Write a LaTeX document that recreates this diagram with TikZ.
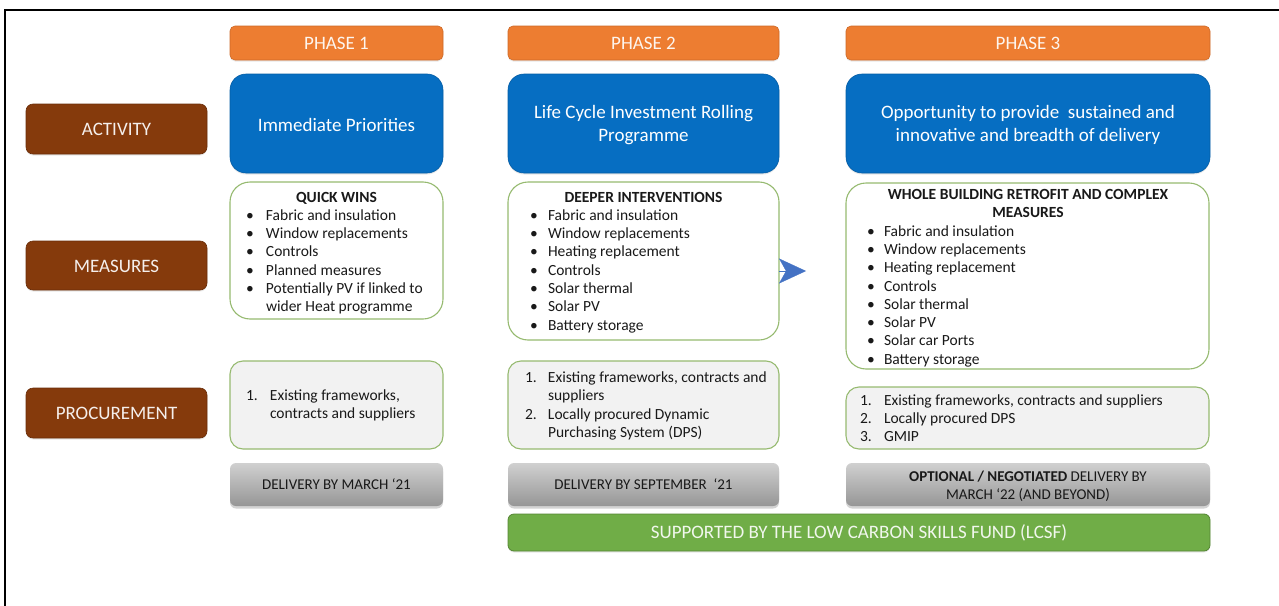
\documentclass[tikz,border=0pt]{standalone}
\usepackage{fontspec}
\setmainfont{Carlito}
\usetikzlibrary{fit,arrows.meta,shadows}

\definecolor{phaseorange}{RGB}{237,125,49}
\definecolor{phaseedge}{RGB}{205,105,40}
\definecolor{actblue}{RGB}{6,110,194}
\definecolor{rowbrown}{RGB}{133,58,12}
\definecolor{boxgreen}{RGB}{150,186,112}
\definecolor{procfill}{RGB}{242,242,242}
\definecolor{delivtop}{RGB}{208,208,208}
\definecolor{delivbot}{RGB}{150,150,150}
\definecolor{fundgreen}{RGB}{112,173,71}
\definecolor{fundedge}{RGB}{84,132,52}
\definecolor{arrowblue}{RGB}{68,114,196}
\definecolor{inkdark}{RGB}{25,25,25}

% bullet / number column of a given width
\newcommand\bulletcol[1]{\makebox[#1][l]{\textbullet}}
\newcommand\numcol[2]{\makebox[#1][l]{#2}}

\tikzset{
  area/.style={inner sep=0pt, outer sep=0pt},
  softshadow/.style={drop shadow={shadow xshift=0pt, shadow yshift=-1.5pt, opacity=0.18}},
  phasebox/.style={area, softshadow, fill=phaseorange, draw=phaseedge, line width=0.6pt, rounded corners=5pt},
  activitybox/.style={area, softshadow, fill=actblue, draw=actblue!85!black, line width=0.6pt, rounded corners=16pt},
  rowlabel/.style={area, softshadow, fill=rowbrown, draw=rowbrown!80!black, line width=0.6pt, rounded corners=7pt},
  measurebox/.style={area, fill=white, draw=boxgreen, line width=1.1pt, rounded corners=20pt},
  procbox/.style={area, fill=procfill, draw=boxgreen, line width=1.1pt, rounded corners=13pt},
  delivbox/.style={area, top color=delivtop, bottom color=delivbot, draw=none, rounded corners=6pt,
    drop shadow={shadow xshift=0pt, shadow yshift=-2.5pt, opacity=0.35}},
  fundbox/.style={area, softshadow, fill=fundgreen, draw=fundedge, line width=0.8pt, rounded corners=6pt},
  % centred captions, placed by their first baseline
  caption/.style={anchor=base, inner sep=0pt, outer sep=0pt, align=flush center, text width=380pt},
  bigcap/.style={caption, font=\fontsize{19}{23}\selectfont},
  smallcap/.style={caption, text=inkdark, font=\fontsize{15}{18}\selectfont},
  listtext/.style={anchor=base west, inner sep=0pt, outer sep=0pt, align=flush left, text width=380pt,
    text=inkdark, font=\fontsize{15.5}{18.3}\selectfont},
  frameline/.style={line width=1.6pt, black},
  flowarrow/.style={arrowblue, line width=0.3pt, -{Stealth[length=27pt,width=25pt,inset=7pt]}}
}

\begin{document}
\begin{tikzpicture}[x=1pt, y=-1pt]
  \useasboundingbox (0,0) rectangle (1279,605);

  % outer frame (runs off the right and bottom of the page)
  \coordinate (frameBL) at (5,640);
  \coordinate (frameTL) at (5,10);
  \coordinate (frameTR) at (1300,10);
  \draw[frameline] (frameBL) -- (frameTL) -- (frameTR);

  % phase headers
  \node[phasebox, fit={(230,26)(443,60)}] (ph1) {};
  \node[phasebox, fit={(508,26)(779,60)}] (ph2) {};
  \node[phasebox, fit={(846,26)(1210,60)}] (ph3) {};
  \node[bigcap, text=white!92!phaseorange] (ph1txt) at (336.5,49) {PHASE 1};
  \node[bigcap, text=white!92!phaseorange] (ph2txt) at (643.5,49) {PHASE 2};
  \node[bigcap, text=white!92!phaseorange] (ph3txt) at (1028,49) {PHASE 3};

  % row labels
  \node[rowlabel, fit={(26,104)(207,154)}] (rowAct) {};
  \node[rowlabel, fit={(26,241)(207,290)}] (rowMeas) {};
  \node[rowlabel, fit={(26,388)(207,438)}] (rowProc) {};
  \node[bigcap, text=white!92!rowbrown] (rowActTxt) at (116.5,135.5) {ACTIVITY};
  \node[bigcap, text=white!92!rowbrown] (rowMeasTxt) at (116.5,272) {MEASURES};
  \node[bigcap, text=white!92!rowbrown] (rowProcTxt) at (116.5,419.5) {PROCUREMENT};

  % activities
  \node[activitybox, fit={(230,74)(443,173)}] (act1) {};
  \node[activitybox, fit={(508,74)(779,173)}] (act2) {};
  \node[activitybox, fit={(846,74)(1210,173)}] (act3) {};
  \node[bigcap, text=white] (act1txt) at (336.5,131) {Immediate Priorities};
  \node[bigcap, text=white] (act2txt) at (643.5,118.5) {Life Cycle Investment Rolling\\Programme};
  \node[bigcap, text=white] (act3txt) at (1028,118.5) {Opportunity to provide\ \ sustained and\\innovative and breadth of delivery};

  % measures
  \node[measurebox, fit={(230,182)(443,319)}] (meas1) {};
  \node[measurebox, fit={(508,182)(779,340)}] (meas2) {};
  \node[measurebox, fit={(846,183)(1209,369)}] (meas3) {};

  \node[listtext] (meas1txt) at (246,202) {%
    \makebox[181pt]{\bfseries QUICK WINS}\\
    \bulletcol{20pt}Fabric and insulation\\
    \bulletcol{20pt}Window replacements\\
    \bulletcol{20pt}Controls\\
    \bulletcol{20pt}Planned measures\\
    \bulletcol{20pt}Potentially PV if linked to\\
    \hspace*{20pt}wider Heat programme};

  \node[listtext] (meas2txt) at (530,202) {%
    \makebox[227pt]{\bfseries DEEPER INTERVENTIONS}\\
    \bulletcol{18pt}Fabric and insulation\\
    \bulletcol{18pt}Window replacements\\
    \bulletcol{18pt}Heating replacement\\
    \bulletcol{18pt}Controls\\
    \bulletcol{18pt}Solar thermal\\
    \bulletcol{18pt}Solar PV\\
    \bulletcol{18pt}Battery storage};

  \node[listtext] (meas3txt) at (867,199.5) {%
    \makebox[322pt]{\bfseries WHOLE BUILDING RETROFIT AND COMPLEX}\\
    \makebox[322pt]{\bfseries MEASURES}\\
    \bulletcol{17pt}Fabric and insulation\\
    \bulletcol{17pt}Window replacements\\
    \bulletcol{17pt}Heating replacement\\
    \bulletcol{17pt}Controls\\
    \bulletcol{17pt}Solar thermal\\
    \bulletcol{17pt}Solar PV\\
    \bulletcol{17pt}Solar car Ports\\
    \bulletcol{17pt}Battery storage};

  % procurement
  \node[procbox, fit={(230,361)(443,449)}] (proc1) {};
  \node[procbox, fit={(508,361)(779,449)}] (proc2) {};
  \node[procbox, fit={(846,387)(1209,449)}] (proc3) {};

  \node[listtext] (proc1txt) at (246,400.5) {%
    \numcol{24pt}{1.}Existing frameworks,\\
    \hspace*{24pt}contracts and suppliers};

  \node[listtext] (proc2txt) at (525,382.5) {%
    \numcol{23pt}{1.}Existing frameworks, contracts and\\
    \hspace*{23pt}suppliers\\
    \numcol{23pt}{2.}Locally procured Dynamic\\
    \hspace*{23pt}Purchasing System (DPS)};

  \node[listtext] (proc3txt) at (860,405) {%
    \numcol{24pt}{1.}Existing frameworks, contracts and suppliers\\
    \numcol{24pt}{2.}Locally procured DPS\\
    \numcol{24pt}{3.}GMIP};

  % delivery dates
  \node[delivbox, fit={(230,463)(443,506)}] (del1) {};
  \node[delivbox, fit={(508,463)(779,506)}] (del2) {};
  \node[delivbox, fit={(846,463)(1210,506)}] (del3) {};
  \node[smallcap] (del1txt) at (336.5,489) {DELIVERY BY MARCH ‘21};
  \node[smallcap] (del2txt) at (643.5,489) {DELIVERY BY SEPTEMBER\ \ ‘21};
  \node[smallcap] (del3txt) at (1028,481.5) {\textbf{OPTIONAL / NEGOTIATED} DELIVERY BY\\MARCH ‘22 (AND BEYOND)};

  % funding bar
  \node[fundbox, fit={(508,514)(1210,551)}] (fund) {};
  \node[bigcap, text width=680pt, text=white!90!fundgreen] (fundtxt) at (859,538.5) {SUPPORTED BY THE LOW CARBON SKILLS FUND (LCSF)};

  % progression arrow between the measure boxes
  \coordinate (arrTail) at (779,271);
  \coordinate (arrTip) at (806,271);
  \draw[flowarrow] (arrTail) -- (arrTip);
\end{tikzpicture}
\end{document}
